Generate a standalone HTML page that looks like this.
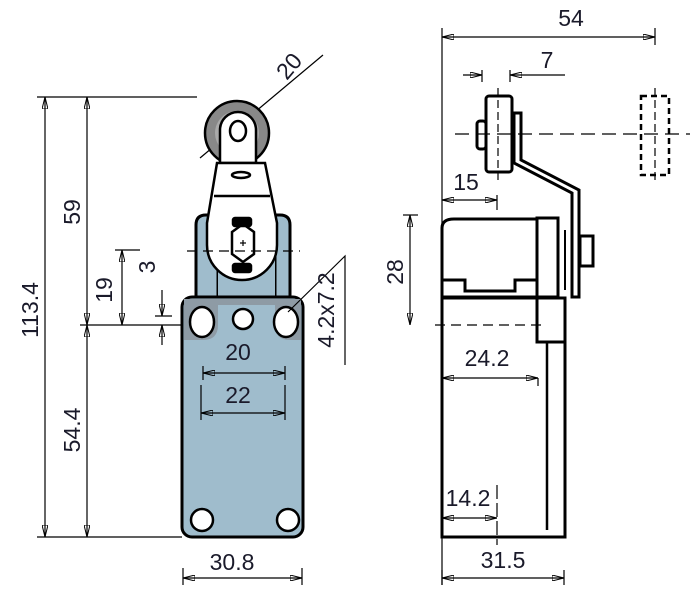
<!DOCTYPE html><html><head><style>body{margin:0;background:#fff}svg{display:block}text{font-family:"Liberation Sans",sans-serif;font-size:23px;fill:#1a1a2a}</style></head><body>
<svg width="694" height="606" viewBox="0 0 694 606" xmlns="http://www.w3.org/2000/svg">
<defs><marker id="a" viewBox="0 0 12 6" refX="12" refY="3" markerWidth="12" markerHeight="6" orient="auto-start-reverse" markerUnits="userSpaceOnUse"><path d="M0,0L12,3L0,6z" fill="none" stroke="#000" stroke-width="1"/></marker></defs>
<g stroke="#000" stroke-width="1.2" fill="none">
<line x1="37" y1="97" x2="197" y2="97"/>
<line x1="45" y1="97" x2="45" y2="537" marker-start="url(#a)" marker-end="url(#a)"/>
<line x1="87" y1="97" x2="87" y2="325" marker-start="url(#a)" marker-end="url(#a)"/>
<line x1="87" y1="325" x2="87" y2="537" marker-start="url(#a)" marker-end="url(#a)"/>
<line x1="37" y1="537" x2="182" y2="537"/>
<line x1="80" y1="325" x2="182" y2="325"/>
<line x1="115" y1="250" x2="140" y2="250"/>
<line x1="122" y1="250" x2="122" y2="325" marker-start="url(#a)" marker-end="url(#a)"/>
<line x1="155" y1="316" x2="172" y2="316"/>
<line x1="162" y1="290" x2="162" y2="316" marker-end="url(#a)"/>
<line x1="162" y1="325" x2="162" y2="345" marker-start="url(#a)"/>
<line x1="183" y1="568" x2="183" y2="585"/><line x1="302" y1="568" x2="302" y2="585"/>
<line x1="183" y1="578" x2="302" y2="578" marker-start="url(#a)" marker-end="url(#a)"/>
<line x1="200" y1="158" x2="323" y2="55"/>
</g>
<g stroke="#000" stroke-width="3">
<path d="M196,297V225q0-10 10-10h12v82zM275,297V215h5q10,0 10,10v72z" fill="#9fbccc"/>
<path d="M218,297V230h57v67z" fill="#9fbccc" stroke="none"/>
<rect x="182" y="297" width="121" height="240" rx="10" fill="#9fbccc"/>
<path d="M184,299H301V340H290q-15,0-15-15V305H218v20q0,15-15,15H184z" fill="#8e9ba5" stroke-width="0"/>
</g>
<g stroke="#000" stroke-width="2.5" fill="#fff">
<ellipse cx="202" cy="322" rx="12" ry="15"/><ellipse cx="286" cy="322" rx="12" ry="15"/>
<circle cx="243" cy="319" r="10"/><circle cx="202" cy="520" r="11"/><circle cx="288" cy="520" r="11"/>
<circle cx="237" cy="133" r="32" fill="#888"/><circle cx="237" cy="133" r="22" fill="#aaa" stroke="none"/>
<path d="M220,130a18,18 0 0 1 36,0v33h-36z"/>
<path d="M217,163h48l12,60v22a35,35 0 0 1-70,0v-22z"/>
<line x1="214" y1="196" x2="270" y2="196"/>
<ellipse cx="238" cy="131" rx="8" ry="10"/>
<ellipse cx="241" cy="175" rx="9" ry="3"/>
<path d="M232,232l11-8 11,8v22l-11,8-11-8z"/>
<rect x="233" y="218" width="18" height="8" rx="2" fill="#000"/>
<rect x="233" y="264" width="18" height="8" rx="2" fill="#000"/>
</g>
<g stroke="#000" stroke-width="1.2" fill="none">
<line x1="187" y1="251" x2="300" y2="251" stroke-dasharray="10 6"/>
<line x1="240" y1="243" x2="246" y2="243"/><line x1="243" y1="240" x2="243" y2="246"/>
<line x1="203" y1="366" x2="203" y2="380"/><line x1="285" y1="366" x2="285" y2="380"/>
<line x1="203" y1="373" x2="285" y2="373" marker-start="url(#a)" marker-end="url(#a)"/>
<line x1="201" y1="385" x2="201" y2="420"/><line x1="285" y1="385" x2="285" y2="420"/>
<line x1="201" y1="413" x2="285" y2="413" marker-start="url(#a)" marker-end="url(#a)"/>
<path d="M288,312L345,256V365"/>
</g>
<!-- right view bodies -->
<g stroke="#000" stroke-width="3" fill="#fff">
<rect x="442" y="298" width="123" height="239"/>
<line x1="547" y1="302" x2="547" y2="530" stroke-width="2.5"/>
<rect x="537" y="298" width="28" height="44"/>
<path d="M514,113v50l58,30v104h7V190l-58-30v-47z"/>
<rect x="537" y="218" width="21" height="79"/>
<line x1="565" y1="230" x2="565" y2="290" stroke-width="2"/>
<path d="M442,297V228q0-9 12-9h83v78z"/>
<path d="M442,280h23v11h50v-11h22" fill="none"/>
<rect x="580" y="236" width="13" height="30"/>
<rect x="486" y="96" width="26" height="76" rx="3"/>
<rect x="477" y="121" width="9" height="28" rx="3"/>
<rect x="641" y="96" width="28" height="79" stroke-dasharray="6 4" stroke-width="2.5"/>
</g>
<g stroke="#000" stroke-width="1.2" fill="none">
<line x1="442" y1="28" x2="442" y2="585"/>
<line x1="655" y1="28" x2="655" y2="45"/>
<line x1="442" y1="37" x2="655" y2="37" marker-start="url(#a)" marker-end="url(#a)"/>
<line x1="482" y1="70" x2="482" y2="82"/><line x1="510" y1="70" x2="510" y2="82"/>
<line x1="463" y1="75" x2="482" y2="75" marker-end="url(#a)"/>
<line x1="510" y1="75" x2="565" y2="75" marker-start="url(#a)"/>
<line x1="497" y1="195" x2="497" y2="210"/>
<line x1="442" y1="200" x2="497" y2="200" marker-start="url(#a)" marker-end="url(#a)"/>
<line x1="403" y1="215" x2="418" y2="215"/>
<line x1="410" y1="215" x2="410" y2="325" marker-start="url(#a)" marker-end="url(#a)"/>
<line x1="435" y1="325" x2="545" y2="325" stroke-dasharray="10 6"/>
<line x1="455" y1="134" x2="690" y2="134" stroke-dasharray="14 7"/>
<line x1="498" y1="88" x2="498" y2="180" stroke-dasharray="8 4"/>
<line x1="655" y1="88" x2="655" y2="180" stroke-dasharray="8 4"/>
<line x1="538" y1="378" x2="538" y2="386"/>
<line x1="442" y1="378" x2="538" y2="378" marker-start="url(#a)" marker-end="url(#a)"/>
<line x1="497" y1="485" x2="497" y2="545" stroke-dasharray="14 4"/>
<line x1="442" y1="518" x2="497" y2="518" marker-start="url(#a)" marker-end="url(#a)"/>
<line x1="442" y1="570" x2="442" y2="585"/><line x1="564" y1="570" x2="564" y2="585"/>
<line x1="442" y1="578" x2="564" y2="578" marker-start="url(#a)" marker-end="url(#a)"/>
</g>
<text x="571" y="26" text-anchor="middle">54</text>
<text x="547" y="68" text-anchor="middle">7</text>
<text x="466" y="190" text-anchor="middle">15</text>
<text x="487" y="366" text-anchor="middle">24.2</text>
<text x="468" y="506" text-anchor="middle">14.2</text>
<text x="503" y="568" text-anchor="middle">31.5</text>
<text x="238" y="360" text-anchor="middle">20</text>
<text x="238" y="403" text-anchor="middle">22</text>
<text x="232" y="570" text-anchor="middle">30.8</text>
<text transform="translate(30,310) rotate(-90)" text-anchor="middle" dy="8">113.4</text>
<text transform="translate(72,212) rotate(-90)" text-anchor="middle" dy="8">59</text>
<text transform="translate(72,430) rotate(-90)" text-anchor="middle" dy="8">54.4</text>
<text transform="translate(104,290) rotate(-90)" text-anchor="middle" dy="8">19</text>
<text transform="translate(147,267) rotate(-90)" text-anchor="middle" dy="8">3</text>
<text transform="translate(395,272) rotate(-90)" text-anchor="middle" dy="8">28</text>
<text transform="translate(326,310) rotate(-90)" text-anchor="middle" dy="8">4.2x7.2</text>
<text transform="translate(289,66) rotate(-50)" text-anchor="middle" dy="8">20</text>
</svg></body></html>
